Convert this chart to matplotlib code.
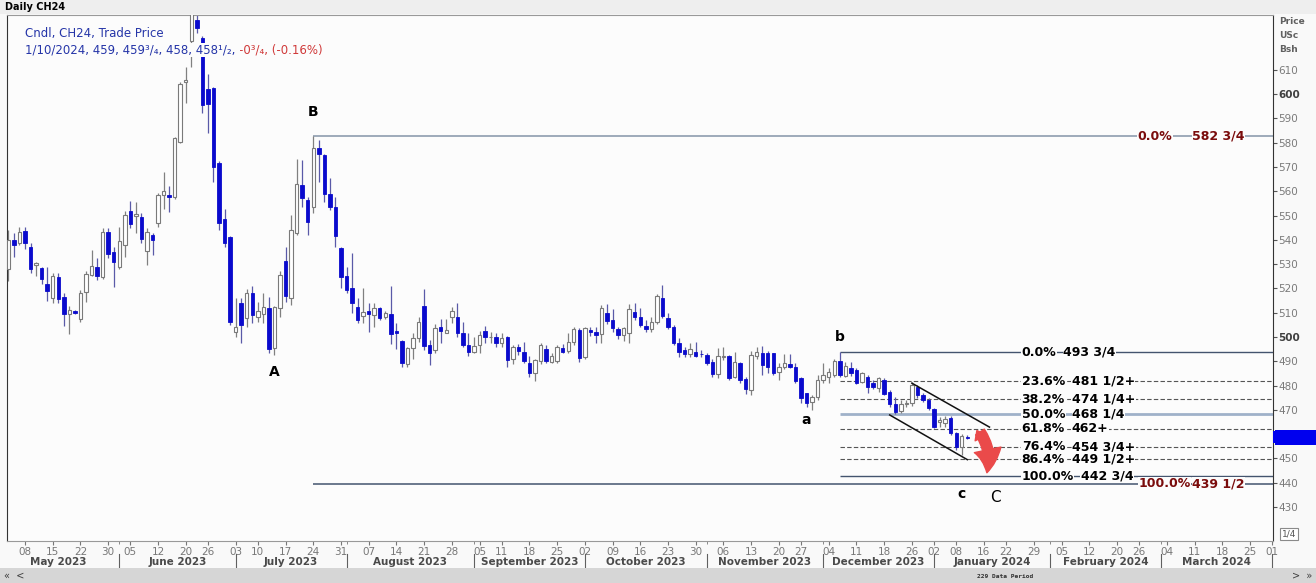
import matplotlib
matplotlib.use("Agg")
import matplotlib.pyplot as plt
from matplotlib.patches import Rectangle, FancyArrowPatch
import matplotlib.transforms as mtransforms
import numpy as np
import pandas as pd

# ---- data -------------------------------------------------------------
holidays = ["2023-05-29", "2023-06-19", "2023-07-04", "2023-09-04", "2023-11-23",
            "2023-12-25", "2024-01-01", "2024-01-15", "2024-02-19", "2024-03-29"]
start_date = "2023-05-03"
end_date = "2024-04-01"

opens = [528, 540, 538.6, 543.7, 537, 529.8, 528.3, 521.7, 516, 524.9,
         516.6, 509.5, 510.8, 507.3, 518.7, 525.6, 528.7, 524.9, 543.4, 535.2,
         529, 537.9, 552, 550, 549.3, 535.6, 542, 546.8, 558.5, 558.5,
         557.8, 580.1, 605, 622, 630.6, 623, 602, 602.4, 571.6, 548.5,
         541.3, 502.2, 514.2, 507.7, 518.3, 508.4, 509.4, 511.8, 495.4, 511.8,
         531.1, 515.9, 542.7, 562.6, 556.4, 553.7, 577.7, 575, 558.9, 553.4,
         536.5, 525.1, 520.1, 512.5, 508.7, 510.7, 509.1, 511.8, 508.1, 509.5,
         502.6, 498.5, 488.8, 495.6, 499.5, 512.8, 496.7, 494.7, 504, 501.8,
         508.4, 508.4, 501.8, 496.7, 494, 496.7, 502.5, 499.8, 499.9, 497.4,
         500.1, 490.8, 495.7, 494, 489.4, 485.3, 490.3, 494.9, 489.9, 490.3,
         495.3, 494.4, 498.1, 502.9, 491.6, 502.9, 502.2, 501.2, 510, 507,
         503.2, 500.8, 501.5, 510.4, 508.4, 504.5, 503.2, 506.3, 515.9, 507.7,
         504, 497.7, 494.7, 493, 494, 493, 492.6, 489.9, 484.8, 491.6,
         492.2, 483.7, 489.4, 482.6, 478.2, 492.2, 493.6, 493.3, 493.3, 485.7,
         487.8, 488.9, 487.5, 483, 476.8, 473.4, 475.2, 482.3, 483.7, 484.4,
         490.3, 484, 487.1, 486.4, 481.6, 483.7, 480.9, 478.9, 482.3, 477.5,
         472.4, 469.7, 472.4, 473, 479.6, 476.1, 474.1, 470.2, 465.1, 464.5,
         466.5, 460.6, 454.8, 459]
highs = [544, 543, 545.5, 545.5, 538.6, 531, 529, 529, 526.2, 526.2,
         518, 512.8, 511, 519.4, 527, 536, 532.4, 544.8, 544.8, 537,
         545.2, 552, 556.2, 555.7, 551.2, 544.8, 543, 559.5, 567.8, 562,
         582.5, 605, 611, 645, 634, 624, 608.3, 603, 572.3, 552.6,
         541.5, 516, 516, 519.7, 521, 514.6, 518, 516.6, 512.8, 527,
         537.2, 550.3, 573.2, 572.7, 557.8, 582.75, 581.2, 575.5, 565.4, 557.8,
         537, 529, 534.8, 515.9, 520, 513.9, 514.2, 512.2, 510.9, 520.8,
         505.7, 498.8, 496, 501.5, 508.4, 519.7, 498.8, 505.4, 507.3, 507.3,
         512.5, 514, 506.3, 501.5, 500.1, 502.6, 504.5, 502.2, 501.5, 501.5,
         500.5, 496.7, 497.1, 498.1, 492.2, 490.8, 497.4, 496.7, 493.3, 496.7,
         497.1, 501.5, 504.3, 503.6, 504, 504, 504, 513.2, 513.6, 511.4,
         504.3, 504.3, 513.6, 513.9, 511.8, 507, 508.4, 517.7, 521.4, 510,
         505, 499.5, 495.7, 497.7, 498.1, 494.5, 493.6, 490.8, 495.3, 496,
         492.6, 494, 489.9, 483.7, 494.3, 496, 496.3, 494.4, 493.6, 489.2,
         493, 493, 489.2, 483.7, 477.1, 476.1, 484.4, 489.2, 487.1, 490.8,
         493.75, 489.9, 489.9, 487.1, 485.7, 484.4, 482.3, 483.7, 483, 478.2,
         475.4, 474.1, 474.1, 481.5, 480.2, 476.8, 474.8, 470.6, 466.9, 467.5,
         467.5, 461, 460, 459.75]
lows = [523, 533, 538, 536.1, 526.2, 525, 522, 515, 513.9, 513.9,
        504.6, 501.3, 509.5, 506.3, 514.6, 525, 523.5, 523.8, 532.4, 520.7,
        528, 533.1, 544.8, 542.7, 538.6, 529.7, 533.8, 545.5, 552.6, 551.6,
        557, 579.8, 596.3, 611, 625, 592.1, 583.9, 564, 544, 537.2,
        505, 500.2, 497.4, 504.3, 505.7, 506.3, 505.7, 493.3, 492.6, 508.4,
        514.6, 513.2, 542, 553.4, 542, 550.9, 564, 555.8, 552.3, 537.2,
        520.1, 518, 510, 505.7, 505.7, 502.2, 504, 507, 507.3, 497.1,
        494.9, 487.8, 487.8, 490.8, 498.1, 494.7, 488.5, 493.3, 497.7, 501.5,
        505.7, 500, 495.7, 492.2, 493.3, 493.6, 497.7, 497.4, 496, 496,
        487.8, 488.9, 492.6, 489.2, 483.7, 482, 488.9, 489.2, 489.4, 489.4,
        493.3, 493.6, 496.7, 489.9, 490.8, 500.4, 497.7, 497.7, 505.4, 502.2,
        499, 498.5, 497.7, 507, 504.3, 502.2, 502.2, 505.4, 507.7, 503.2,
        496.7, 491.9, 491.6, 491.6, 491.6, 491.9, 488.5, 483.7, 483, 490.5,
        482.3, 483, 481.2, 476.5, 476.1, 490.8, 484.4, 485, 484.4, 482.3,
        486.7, 487.1, 481.2, 472.7, 471.1, 470, 474.1, 481.2, 481.2, 483.7,
        483.7, 483.4, 484, 480.7, 480.9, 476.8, 478.5, 477.5, 476.1, 471.1,
        468.3, 468.6, 471.1, 471.6, 474.8, 473.4, 470, 462.4, 463.1, 463.1,
        459.7, 453.5, 451.4, 458]
closes = [540, 538, 543.4, 538.6, 528, 530.4, 523.8, 519, 525, 515.5,
          509.5, 511, 510, 518.3, 525.8, 529.3, 525.1, 543.4, 534.2, 531,
          539.7, 550.3, 546.6, 550.7, 540.2, 543.4, 539.9, 558.5, 560.1, 557.8,
          582.1, 604.2, 606, 638, 627.1, 595.6, 596, 570.2, 546.8, 538.6,
          506.3, 504.3, 505, 518, 509.1, 510.9, 512.5, 494.9, 512.2, 525.6,
          516.9, 544.1, 563, 557.4, 547.5, 577.7, 575.4, 558.9, 553.4, 541.4,
          524.9, 519.4, 513.9, 507, 510.5, 509.4, 511.8, 508, 510, 501.1,
          501.5, 489.2, 495.4, 499.5, 506.3, 496.1, 493.3, 503.6, 502.6, 502.9,
          510.9, 501.5, 496.7, 494, 496.3, 500.8, 500.1, 500.1, 497.7, 499.7,
          490.5, 496, 494.2, 490.3, 485.3, 490.5, 496.7, 490.3, 492.2, 495.7,
          494, 498.1, 503.2, 491.2, 503.6, 502.1, 500.8, 511.8, 506.7, 503.6,
          500.8, 503.6, 511.4, 508.1, 505, 503.2, 506.3, 516.9, 508.7, 504,
          497.7, 494, 493, 494.9, 492.2, 492.8, 489.2, 484.8, 492.2, 492.2,
          483, 489.9, 482.3, 478.5, 492.6, 494, 488.5, 487.8, 485, 487.5,
          489.2, 487.8, 482, 474.8, 473, 475.4, 482.3, 484.4, 485.7, 490.3,
          484.4, 488.1, 485.1, 481.2, 485.1, 479.6, 479.3, 483, 476.5, 472.4,
          469.3, 472.4, 473, 480.2, 476.1, 474.1, 470.6, 463.1, 465.8, 466.1,
          460.3, 454.8, 459.2, 458.5]

# retracement b -> c (lower set) and B -> C (upper set)
fib_start = "2023-12-06"
fib_pct = ["0.0%", "23.6%", "38.2%", "50.0%", "61.8%", "76.4%", "86.4%", "100.0%"]
fib_vals = [493.75, 481.71, 474.27, 468.25, 462.23, 454.79, 449.69, 442.75]
fib_text = ["493 3/4", "481 1/2+", "474 1/4+", "468 1/4", "462+", "454 3/4+", "449 1/2+", "442 3/4"]
big_start = "2023-07-24"
big_pct = ["0.0%", "100.0%"]
big_vals = [582.75, 439.5]
big_text = ["582 3/4", "439 1/2"]

# channel lines (date, price)
chan_upper = [("2023-12-26", 481.0), ("2024-01-17", 462.9)]
chan_lower = [("2023-12-19", 467.9), ("2024-01-10", 449.5)]

wave_labels = ["A", "B", "a", "b", "c", "C"]
wave_dates = ["2023-07-13", "2023-07-24", "2023-11-28", "2023-12-06", "2024-01-09", "2024-01-18"]
wave_prices = [485.6, 592.7, 465.8, 500.0, 435.4, 434.1]

last_price = 458.5
# ------------------------------------------------------------------------

dates = pd.bdate_range(start_date, end_date, freq="C", holidays=holidays)
pos = {d.strftime("%Y-%m-%d"): i for i, d in enumerate(dates)}
n = len(closes)
idx = np.arange(n)
o = np.array(opens, float); h = np.array(highs, float)
l = np.array(lows, float); c = np.array(closes, float)

W, H = 1316, 583
fig = plt.figure(figsize=(W / 100, H / 100), dpi=100, facecolor="#F9F9F9")
ax = fig.add_axes([7 / W, 1 - 541 / H, (1273 - 7) / W, (541 - 15) / H])
ax.set_facecolor("#FCFCFC")

def px(x, y):
    return x / W, 1 - y / H

# top band + scrollbar
fig.patches.append(Rectangle(px(0, 14), 1, 14 / H, transform=fig.transFigure,
                             facecolor="#EEEEEE", edgecolor="none", zorder=0))
fig.patches.append(Rectangle(px(0, 583), 1, 15 / H, transform=fig.transFigure,
                             facecolor="#D6D6D6", edgecolor="none", zorder=0))
fig.text(*px(5, 7), "Daily CH24", fontsize=7, fontweight="bold", va="center", ha="left")
fig.text(*px(4, 576), "\u00ab  <", fontsize=7, va="center", ha="left", color="#404040")
fig.text(*px(1312, 576), ">  \u00bb", fontsize=7, va="center", ha="right", color="#404040")
fig.text(*px(1005, 576), "229 Data Period", fontsize=4.5, va="center", ha="center",
         family="DejaVu Sans Mono", fontweight="bold", color="#303030")

# candles
up = c >= o
down_col = "#0A0ACD"
ax.vlines(idx[up], l[up], h[up], color="#808080", lw=0.9, zorder=2)
ax.vlines(idx[~up], l[~up], h[~up], color="#5A5AA8", lw=0.9, zorder=2)
body_lo = np.minimum(o, c)
body_h = np.maximum(np.abs(c - o), 0.4)
ax.bar(idx[up], body_h[up], bottom=body_lo[up], width=0.62, color="white",
       edgecolor="#7A7A7A", linewidth=0.8, zorder=3)
ax.bar(idx[~up], body_h[~up], bottom=body_lo[~up], width=0.62, color=down_col,
       edgecolor=down_col, linewidth=0.6, zorder=3)

x_right = len(dates) - 1 + 0.15
ax.set_xlim(-0.25, x_right)
ax.set_ylim(416, 632.6)

# fib levels (lower set)
fs = pos[fib_start]
styles = {"0.0%": ("-", "#44546E", 1.0), "50.0%": ("-", "#9FB1C9", 2.0),
          "100.0%": ("-", "#44546E", 1.0)}
bg = "#FCFCFC"
for p, v, t in zip(fib_pct, fib_vals, fib_text):
    ls, col, lw = styles.get(p, ((0, (4, 2)), "#555555", 0.8))
    ax.hlines(v, fs, x_right, colors=col, linestyles=ls, lw=lw, zorder=1)
    tp = ax.text(182.8, v, p, fontsize=9, fontweight="bold", va="center", ha="left",
                 bbox=dict(facecolor=bg, edgecolor="none", pad=0.3), zorder=4)
    ax.annotate(t, xy=(1, 0.5), xycoords=tp, xytext=(5, 0), textcoords="offset points",
                fontsize=9, fontweight="bold", va="center", ha="left",
                bbox=dict(facecolor=bg, edgecolor="none", pad=0.3), zorder=4)

# big B -> C levels
bs = pos[big_start]
red_txt = "#7A0C0C"
for p, v, t, col in zip(big_pct, big_vals, big_text, ["#8494A8", "#44546E"]):
    ax.hlines(v, bs, x_right, colors=col, lw=1.1, zorder=1)
    tv = ax.text(223, v, t, fontsize=9, fontweight="bold", va="center", ha="right",
                 color=red_txt, bbox=dict(facecolor=bg, edgecolor="none", pad=0.3), zorder=4)
    gap = -14 if p == "0.0%" else -1
    ax.annotate(p, xy=(0, 0.5), xycoords=tv, xytext=(gap, 0), textcoords="offset points",
                fontsize=9, fontweight="bold", va="center", ha="right", color=red_txt,
                bbox=dict(facecolor=bg, edgecolor="none", pad=0.3), zorder=4)

# channel
for seg in (chan_upper, chan_lower):
    ax.plot([pos[seg[0][0]], pos[seg[1][0]]], [seg[0][1], seg[1][1]],
            color="#111111", lw=1.1, zorder=4)

# red arrow
arr = FancyArrowPatch((175.0, 461.8), (176.4, 443.0),
                      arrowstyle="simple,head_length=1.1,head_width=1.3,tail_width=0.5",
                      connectionstyle="arc3,rad=-0.25", mutation_scale=15,
                      color="#EA4A4A", zorder=5)
ax.add_patch(arr)
arr2 = FancyArrowPatch((175.4, 458.5), (174.5, 462.5),
                       arrowstyle="simple,head_length=0.6,head_width=0.9,tail_width=0.3",
                       mutation_scale=10, color="#EA4A4A", zorder=5)
ax.add_patch(arr2)

# wave labels
for lab, d, pr in zip(wave_labels, wave_dates, wave_prices):
    ax.text(pos[d], pr, lab, fontsize=10 if lab != "C" else 11,
            fontweight="bold" if lab != "C" else "normal",
            ha="center", va="center", zorder=5)

# y axis on right (460 sits under the last-price tag)
ax.yaxis.tick_right()
yt = np.arange(430, 611, 10)
ax.set_yticks(yt)
ax.set_yticklabels(["" if v == 460 else str(v) for v in yt])
ax.tick_params(axis="y", direction="out", length=3, pad=1, labelsize=7.5, colors="#555555")
for lab, v in zip(ax.get_yticklabels(), yt):
    lab.set_color("#404040" if v % 100 == 0 else "#7A7A7A")
    lab.set_fontweight("bold" if v % 100 == 0 else "normal")
for k, t in enumerate(["Price", "USc", "Bsh"]):
    fig.text(*px(1279, 22 + 14 * k), t, fontsize=6.5, fontweight="bold",
             color="#606060", va="center", ha="left")

# last price tag
fig.patches.append(Rectangle(px(1273, 443), 43 / W, 12 / H, transform=fig.transFigure,
                             facecolor="#0000EE", edgecolor="none", zorder=0))
ax.annotate("458 1/2", xy=(1.0, last_price), xycoords=("axes fraction", "data"),
            xytext=(3, 0), textcoords="offset points", fontsize=7, color="#1A1A80",
            va="center", ha="left", annotation_clip=False,
            bbox=dict(boxstyle="square,pad=0.25", facecolor="#0000EE", edgecolor="none"))
fig.text(*px(1289, 534), "1/4", fontsize=6.5, color="#555555", va="center", ha="center",
         bbox=dict(facecolor="white", edgecolor="#8A8A8A", pad=1.0, lw=0.8))

# x axis: weekly day ticks and month labels
wk = [i for i in range(1, len(dates)) if dates[i].isocalendar()[1] != dates[i - 1].isocalendar()[1]]
ms = [i for i in range(1, len(dates)) if dates[i].month != dates[i - 1].month]
ax.set_xticks(wk)
ax.set_xticklabels([dates[i].strftime("%d") for i in wk])
ax.set_xticks(ms, minor=True)
ax.tick_params(axis="x", which="major", direction="out", length=3, pad=1,
               labelsize=7.5, colors="#777777")
ax.tick_params(axis="x", which="minor", direction="out", length=2, colors="#777777")
trans = mtransforms.blended_transform_factory(ax.transData, ax.transAxes)
first_start = -np.busday_count(dates[0].strftime("%Y-%m-01"), dates[0].strftime("%Y-%m-%d"))
starts = [first_start] + ms
for a, b in zip(starts[:-1], starts[1:]):
    ax.text((a + b) / 2, -0.040, dates[max(a, 0)].strftime("%B %Y"), transform=trans,
            fontsize=7.5, fontweight="bold", color="#4A4A4A", ha="center", va="center")
for m in ms:
    ax.plot([m, m], [-0.024, -0.052], transform=trans, color="#606060", lw=0.8, clip_on=False)

for side in ["left", "right"]:
    ax.spines[side].set_color("#333333")
for side in ["top", "bottom"]:
    ax.spines[side].set_color("#999999")

# header legend
t1 = fig.text(*px(25, 34), "Cndl, CH24, Trade Price", fontsize=8.5, color="#2535A8",
              va="center", ha="left")
t2 = fig.text(*px(25, 50), "1/10/2024, 459, 459\u00b3/\u2084, 458, 458\u00b9/\u2082, ",
              fontsize=8.5, color="#2535A8", va="center", ha="left",
              bbox=dict(facecolor=bg, edgecolor="none", pad=0.5), zorder=6)
ax.annotate("-0\u00b3/\u2084, (-0.16%)", xy=(1, 0.5), xycoords=t2, xytext=(0, 0),
            textcoords="offset points", fontsize=8.5, color="#D03A3A", va="center",
            ha="left", annotation_clip=False,
            bbox=dict(facecolor=bg, edgecolor="none", pad=0.5), zorder=6)

fig.savefig("out.png", dpi=100, facecolor=fig.get_facecolor())
